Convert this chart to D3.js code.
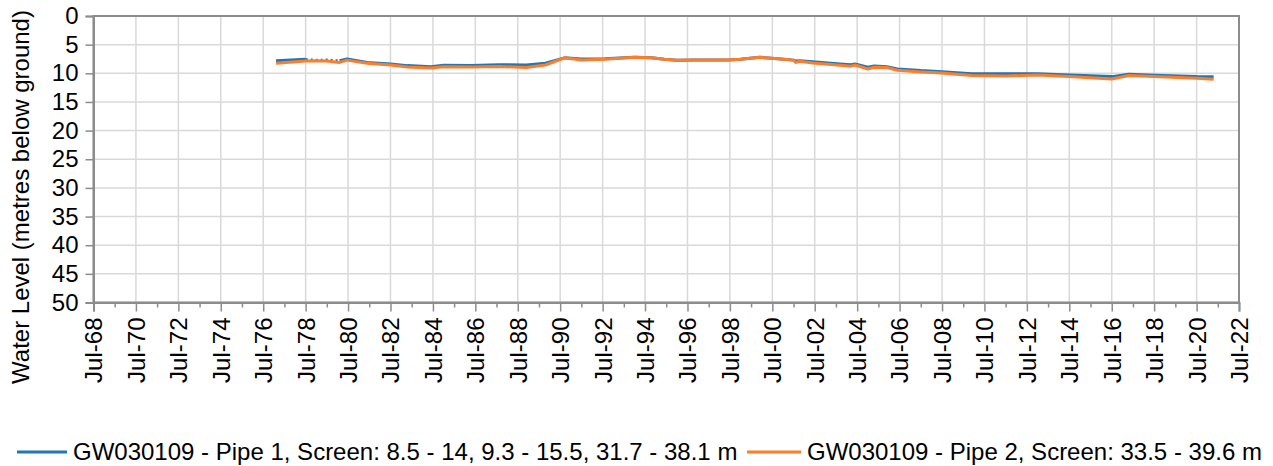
<!DOCTYPE html>
<html>
<head>
<meta charset="utf-8">
<script src="https://cdn.jsdelivr.net/npm/d3@7"></script>
<style>
  html, body { margin: 0; padding: 0; background: #fff; }
  svg { display: block; font-family: "Liberation Sans", Arial, sans-serif; }
</style>
</head>
<body>
<svg id="chart" width="1273" height="466"></svg>
<script>
// ---- data (decimal years, metres below ground) ----
const dates = [1977.1, 1978.5, 1979.0, 1979.5, 1980.1, 1980.45, 1981.4, 1982.5, 1983.3, 1984.4,
  1985.0, 1986.3, 1987.6, 1988.9, 1989.8, 1990.7, 1991.5, 1992.6, 1994.0, 1994.8,
  1995.4, 1996.0, 1996.8, 1998.4, 1999.0, 1999.9, 2000.9, 2001.5, 2001.6, 2001.8,
  2002.4, 2003.7, 2004.2, 2004.4, 2005.0, 2005.3, 2005.9, 2006.4, 2007.5, 2008.5,
  2009.9, 2011.5, 2013.0, 2014.5, 2016.5, 2017.3, 2018.5, 2020.5, 2021.3];
const pipe1 = [7.8, 7.55, 7.7, 7.65, 7.8, 7.5, 8.1, 8.37, 8.66, 8.84,
  8.6, 8.66, 8.5, 8.55, 8.25, 7.3, 7.5, 7.45, 7.2, 7.3,
  7.55, 7.73, 7.67, 7.67, 7.55, 7.2, 7.5, 7.7, 7.85, 7.8,
  8.0, 8.37, 8.5, 8.37, 8.95, 8.72, 8.84, 9.24, 9.53, 9.71,
  10.06, 10.1, 10.06, 10.3, 10.58, 10.18, 10.35, 10.58, 10.6];
const pipe2 = [8.25, 7.85, 7.8, 7.85, 8.1, 7.7, 8.25, 8.55, 8.9, 9.07,
  8.84, 8.9, 8.8, 9.0, 8.55, 7.3, 7.67, 7.55, 7.2, 7.3,
  7.55, 7.73, 7.67, 7.67, 7.55, 7.2, 7.5, 7.7, 8.1, 7.9,
  8.2, 8.6, 8.75, 8.55, 9.24, 8.95, 9.0, 9.47, 9.77, 9.94,
  10.4, 10.46, 10.3, 10.58, 11.0, 10.4, 10.58, 10.87, 11.04];
const yTicks = [0, 5, 10, 15, 20, 25, 30, 35, 40, 45, 50];
const xTickYears = [1968, 1970, 1972, 1974, 1976, 1978, 1980, 1982, 1984, 1986, 1988, 1990, 1992, 1994,
  1996, 1998, 2000, 2002, 2004, 2006, 2008, 2010, 2012, 2014, 2016, 2018, 2020, 2022];
const seriesNames = ["GW030109 - Pipe 1, Screen: 8.5 - 14, 9.3 - 15.5, 31.7 - 38.1 m",
  "GW030109 - Pipe 2, Screen: 33.5 - 39.6 m"];
const colors = ["#1f77b4", "#fb7d2d"];

// ---- helpers ----
function toDate(dy) {
  const yr = Math.floor(dy);
  const start = new Date(yr, 0, 1), end = new Date(yr + 1, 0, 1);
  return new Date(start.getTime() + (dy - yr) * (end - start));
}

const FS = 24;
const svg = d3.select("#chart");
const pL = 93.5, pR = 1239, pT = 16, pB = 302.5;

const x = d3.scaleTime()
  .domain([new Date(1968, 6, 1), new Date(2022, 6, 1)])
  .range([pL, pR]);
const y = d3.scaleLinear().domain([0, 50]).range([pT, pB]);

const majorTicks = xTickYears.map(yr => new Date(yr, 6, 1));
const minorTicks = d3.range(1969, 2022, 2).map(yr => new Date(yr, 6, 1));
const fmt = d3.timeFormat("%b-%y");

// gridlines
const grid = svg.append("g");
grid.selectAll("line.h").data(yTicks).join("line").attr("class", "h")
  .attr("x1", pL).attr("x2", pR)
  .attr("y1", d => y(d)).attr("y2", d => y(d))
  .attr("stroke", "#d9d9d9").attr("stroke-width", 1.5);
grid.selectAll("line.v").data(majorTicks).join("line").attr("class", "v")
  .attr("x1", d => x(d)).attr("x2", d => x(d))
  .attr("y1", pT).attr("y2", pB)
  .attr("stroke", "#d9d9d9").attr("stroke-width", 1.5);

// frame
svg.append("rect").attr("x", pL).attr("y", pT)
  .attr("width", pR - pL).attr("height", pB - pT)
  .attr("fill", "none").attr("stroke", "#8c8c8c").attr("stroke-width", 2);

// y axis
const yAxis = d3.axisLeft(y).tickValues(yTicks).tickSize(8).tickPadding(7);
const gy = svg.append("g").attr("transform", `translate(${pL},0)`).call(yAxis);
gy.select(".domain").attr("stroke", "#8c8c8c").attr("stroke-width", 2);
gy.selectAll(".tick line").attr("stroke", "#8c8c8c").attr("stroke-width", 1.5);
gy.selectAll(".tick text").attr("font-size", FS).attr("fill", "#000")
  .attr("font-family", "Liberation Sans, Arial, sans-serif");

// x axis (major)
const xAxis = d3.axisBottom(x).tickValues(majorTicks).tickFormat(fmt).tickSize(9).tickPadding(6);
const gx = svg.append("g").attr("transform", `translate(0,${pB})`).call(xAxis);
gx.select(".domain").attr("stroke", "#8c8c8c").attr("stroke-width", 2);
gx.selectAll(".tick line").attr("stroke", "#8c8c8c").attr("stroke-width", 1.5);
gx.selectAll(".tick text")
  .attr("font-size", FS).attr("fill", "#000")
  .attr("font-family", "Liberation Sans, Arial, sans-serif")
  .attr("text-anchor", "end")
  .attr("dy", "0.35em")
  .attr("transform", "translate(0,15) rotate(-90)")
  .attr("x", 0).attr("y", 0);
// minor ticks
const xMinor = d3.axisBottom(x).tickValues(minorTicks).tickFormat("").tickSize(5);
const gxm = svg.append("g").attr("transform", `translate(0,${pB})`).call(xMinor);
gxm.select(".domain").remove();
gxm.selectAll(".tick line").attr("stroke", "#8c8c8c").attr("stroke-width", 1.5);

// y axis title
svg.append("text")
  .attr("transform", `translate(21,197) rotate(-90)`)
  .attr("text-anchor", "middle").attr("dy", "0.35em")
  .attr("font-size", FS).attr("fill", "#000")
  .text("Water Level (metres below ground)");

// series
const d1 = dates.map((t, i) => ({ t, d: toDate(t), v: pipe1[i] }));
const d2 = dates.map((t, i) => ({ t, d: toDate(t), v: pipe2[i] }));
const sparse = p => p.t > 1978.5 && p.t < 1980.1;

svg.append("path")
  .attr("d", d3.line().defined(p => !sparse(p)).x(p => x(p.d)).y(p => y(p.v))(d1))
  .attr("fill", "none").attr("stroke", colors[0]).attr("stroke-width", 3)
  .attr("stroke-linejoin", "round");
svg.append("path")
  .attr("d", d3.line().x(p => x(p.d)).y(p => y(p.v))(d1.filter(p => p.t >= 1978.5 && p.t <= 1980.1)))
  .attr("fill", "none").attr("stroke", colors[0]).attr("stroke-width", 2.5)
  .attr("stroke-dasharray", "2,3");
svg.append("path")
  .attr("d", d3.line().x(p => x(p.d)).y(p => y(p.v))(d2))
  .attr("fill", "none").attr("stroke", colors[1]).attr("stroke-width", 3)
  .attr("stroke-linejoin", "round");

// legend
const legY = 452;
const legX1 = [17, 747], legX2 = [67, 801], legTx = [73, 807];
seriesNames.forEach((name, i) => {
  svg.append("line").attr("x1", legX1[i]).attr("x2", legX2[i])
    .attr("y1", legY).attr("y2", legY)
    .attr("stroke", colors[i]).attr("stroke-width", 3);
  svg.append("text").attr("x", legTx[i]).attr("y", legY).attr("dy", "0.35em")
    .attr("font-size", FS).attr("fill", "#000").text(name);
});
</script>
</body>
</html>
